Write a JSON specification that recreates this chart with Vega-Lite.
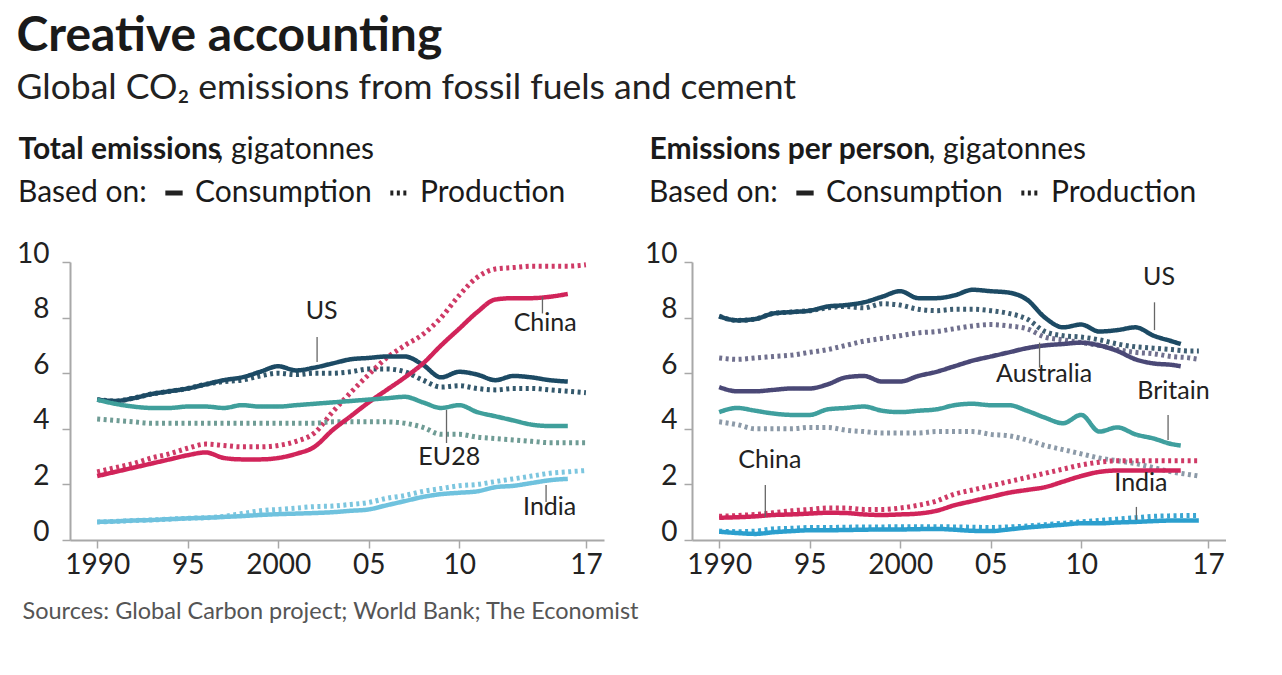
{
  "$schema": "https://vega.github.io/schema/vega-lite/v6.json",
  "background": "white",
  "padding": {"left": 16, "top": 12, "right": 0, "bottom": 0},
  "config": {
    "font": "Lato",
    "view": {"stroke": null},
    "axis": {"grid": false, "labelFont": "Lato", "labelFontSize": 28, "labelColor": "#222", "domainColor": "#a8a8a8", "domainWidth": 2, "tickColor": "#a8a8a8", "tickWidth": 1.5, "tickSize": 8, "titleFont": "Lato", "titleColor": "#1a1a1a", "labelFlush": false},
    "legend": {"labelFont": "Lato", "titleFont": "Lato", "labelLimit": 400, "titleLimit": 400},
    "text": {"font": "Lato"}
  },
  "title": {"text": "Creative accounting", "subtitle": "Global CO₂ emissions from fossil fuels and cement", "anchor": "start", "frame": "bounds", "fontSize": 48, "fontWeight": "bold", "color": "#1a1a1a", "subtitleFontSize": 35.5, "subtitleColor": "#222", "subtitleFont": "Lato", "subtitlePadding": 10, "offset": 28},
  "datasets": {
    "L": [
      {"s":"US-C","b":"Consumption","year":1990,"v":5.05},{"s":"US-C","b":"Consumption","year":1991,"v":5.0},{"s":"US-C","b":"Consumption","year":1992,"v":5.1},{"s":"US-C","b":"Consumption","year":1993,"v":5.25},{"s":"US-C","b":"Consumption","year":1994,"v":5.35},{"s":"US-C","b":"Consumption","year":1995,"v":5.45},{"s":"US-C","b":"Consumption","year":1996,"v":5.6},{"s":"US-C","b":"Consumption","year":1997,"v":5.75},{"s":"US-C","b":"Consumption","year":1998,"v":5.85},{"s":"US-C","b":"Consumption","year":1999,"v":6.05},{"s":"US-C","b":"Consumption","year":2000,"v":6.25},{"s":"US-C","b":"Consumption","year":2001,"v":6.1},{"s":"US-C","b":"Consumption","year":2002,"v":6.2},{"s":"US-C","b":"Consumption","year":2003,"v":6.35},{"s":"US-C","b":"Consumption","year":2004,"v":6.5},{"s":"US-C","b":"Consumption","year":2005,"v":6.55},{"s":"US-C","b":"Consumption","year":2006,"v":6.6},{"s":"US-C","b":"Consumption","year":2007,"v":6.6},{"s":"US-C","b":"Consumption","year":2008,"v":6.3},{"s":"US-C","b":"Consumption","year":2009,"v":5.85},{"s":"US-C","b":"Consumption","year":2010,"v":6.05},{"s":"US-C","b":"Consumption","year":2011,"v":5.95},{"s":"US-C","b":"Consumption","year":2012,"v":5.75},{"s":"US-C","b":"Consumption","year":2013,"v":5.9},{"s":"US-C","b":"Consumption","year":2014,"v":5.85},{"s":"US-C","b":"Consumption","year":2015,"v":5.75},{"s":"US-C","b":"Consumption","year":2016,"v":5.7},
      {"s":"US-P","b":"Production","year":1990,"v":5.05},{"s":"US-P","b":"Production","year":1991,"v":5.0},{"s":"US-P","b":"Production","year":1992,"v":5.1},{"s":"US-P","b":"Production","year":1993,"v":5.25},{"s":"US-P","b":"Production","year":1994,"v":5.35},{"s":"US-P","b":"Production","year":1995,"v":5.45},{"s":"US-P","b":"Production","year":1996,"v":5.6},{"s":"US-P","b":"Production","year":1997,"v":5.7},{"s":"US-P","b":"Production","year":1998,"v":5.75},{"s":"US-P","b":"Production","year":1999,"v":5.9},{"s":"US-P","b":"Production","year":2000,"v":6.0},{"s":"US-P","b":"Production","year":2001,"v":5.95},{"s":"US-P","b":"Production","year":2002,"v":6.0},{"s":"US-P","b":"Production","year":2003,"v":6.0},{"s":"US-P","b":"Production","year":2004,"v":6.05},{"s":"US-P","b":"Production","year":2005,"v":6.15},{"s":"US-P","b":"Production","year":2006,"v":6.15},{"s":"US-P","b":"Production","year":2007,"v":6.05},{"s":"US-P","b":"Production","year":2008,"v":5.75},{"s":"US-P","b":"Production","year":2009,"v":5.5},{"s":"US-P","b":"Production","year":2010,"v":5.55},{"s":"US-P","b":"Production","year":2011,"v":5.45},{"s":"US-P","b":"Production","year":2012,"v":5.4},{"s":"US-P","b":"Production","year":2013,"v":5.45},{"s":"US-P","b":"Production","year":2014,"v":5.45},{"s":"US-P","b":"Production","year":2015,"v":5.4},{"s":"US-P","b":"Production","year":2016,"v":5.35},{"s":"US-P","b":"Production","year":2017,"v":5.3},
      {"s":"CN-C","b":"Consumption","year":1990,"v":2.3},{"s":"CN-C","b":"Consumption","year":1991,"v":2.45},{"s":"CN-C","b":"Consumption","year":1992,"v":2.6},{"s":"CN-C","b":"Consumption","year":1993,"v":2.75},{"s":"CN-C","b":"Consumption","year":1994,"v":2.9},{"s":"CN-C","b":"Consumption","year":1995,"v":3.05},{"s":"CN-C","b":"Consumption","year":1996,"v":3.15},{"s":"CN-C","b":"Consumption","year":1997,"v":2.95},{"s":"CN-C","b":"Consumption","year":1998,"v":2.9},{"s":"CN-C","b":"Consumption","year":1999,"v":2.9},{"s":"CN-C","b":"Consumption","year":2000,"v":2.95},{"s":"CN-C","b":"Consumption","year":2001,"v":3.1},{"s":"CN-C","b":"Consumption","year":2002,"v":3.35},{"s":"CN-C","b":"Consumption","year":2003,"v":3.95},{"s":"CN-C","b":"Consumption","year":2004,"v":4.45},{"s":"CN-C","b":"Consumption","year":2005,"v":4.95},{"s":"CN-C","b":"Consumption","year":2006,"v":5.4},{"s":"CN-C","b":"Consumption","year":2007,"v":5.85},{"s":"CN-C","b":"Consumption","year":2008,"v":6.35},{"s":"CN-C","b":"Consumption","year":2009,"v":7.0},{"s":"CN-C","b":"Consumption","year":2010,"v":7.6},{"s":"CN-C","b":"Consumption","year":2011,"v":8.2},{"s":"CN-C","b":"Consumption","year":2012,"v":8.65},{"s":"CN-C","b":"Consumption","year":2013,"v":8.7},{"s":"CN-C","b":"Consumption","year":2014,"v":8.7},{"s":"CN-C","b":"Consumption","year":2015,"v":8.75},{"s":"CN-C","b":"Consumption","year":2016,"v":8.85},
      {"s":"CN-P","b":"Production","year":1990,"v":2.45},{"s":"CN-P","b":"Production","year":1991,"v":2.6},{"s":"CN-P","b":"Production","year":1992,"v":2.75},{"s":"CN-P","b":"Production","year":1993,"v":2.95},{"s":"CN-P","b":"Production","year":1994,"v":3.1},{"s":"CN-P","b":"Production","year":1995,"v":3.3},{"s":"CN-P","b":"Production","year":1996,"v":3.45},{"s":"CN-P","b":"Production","year":1997,"v":3.4},{"s":"CN-P","b":"Production","year":1998,"v":3.35},{"s":"CN-P","b":"Production","year":1999,"v":3.35},{"s":"CN-P","b":"Production","year":2000,"v":3.4},{"s":"CN-P","b":"Production","year":2001,"v":3.55},{"s":"CN-P","b":"Production","year":2002,"v":3.85},{"s":"CN-P","b":"Production","year":2003,"v":4.6},{"s":"CN-P","b":"Production","year":2004,"v":5.3},{"s":"CN-P","b":"Production","year":2005,"v":5.95},{"s":"CN-P","b":"Production","year":2006,"v":6.55},{"s":"CN-P","b":"Production","year":2007,"v":7.0},{"s":"CN-P","b":"Production","year":2008,"v":7.4},{"s":"CN-P","b":"Production","year":2009,"v":8.0},{"s":"CN-P","b":"Production","year":2010,"v":8.8},{"s":"CN-P","b":"Production","year":2011,"v":9.45},{"s":"CN-P","b":"Production","year":2012,"v":9.75},{"s":"CN-P","b":"Production","year":2013,"v":9.8},{"s":"CN-P","b":"Production","year":2014,"v":9.85},{"s":"CN-P","b":"Production","year":2015,"v":9.85},{"s":"CN-P","b":"Production","year":2016,"v":9.85},{"s":"CN-P","b":"Production","year":2017,"v":9.9},
      {"s":"EU-C","b":"Consumption","year":1990,"v":5.05},{"s":"EU-C","b":"Consumption","year":1991,"v":4.9},{"s":"EU-C","b":"Consumption","year":1992,"v":4.8},{"s":"EU-C","b":"Consumption","year":1993,"v":4.75},{"s":"EU-C","b":"Consumption","year":1994,"v":4.75},{"s":"EU-C","b":"Consumption","year":1995,"v":4.8},{"s":"EU-C","b":"Consumption","year":1996,"v":4.8},{"s":"EU-C","b":"Consumption","year":1997,"v":4.75},{"s":"EU-C","b":"Consumption","year":1998,"v":4.85},{"s":"EU-C","b":"Consumption","year":1999,"v":4.8},{"s":"EU-C","b":"Consumption","year":2000,"v":4.8},{"s":"EU-C","b":"Consumption","year":2001,"v":4.85},{"s":"EU-C","b":"Consumption","year":2002,"v":4.9},{"s":"EU-C","b":"Consumption","year":2003,"v":4.95},{"s":"EU-C","b":"Consumption","year":2004,"v":5.0},{"s":"EU-C","b":"Consumption","year":2005,"v":5.05},{"s":"EU-C","b":"Consumption","year":2006,"v":5.1},{"s":"EU-C","b":"Consumption","year":2007,"v":5.15},{"s":"EU-C","b":"Consumption","year":2008,"v":4.95},{"s":"EU-C","b":"Consumption","year":2009,"v":4.75},{"s":"EU-C","b":"Consumption","year":2010,"v":4.85},{"s":"EU-C","b":"Consumption","year":2011,"v":4.6},{"s":"EU-C","b":"Consumption","year":2012,"v":4.45},{"s":"EU-C","b":"Consumption","year":2013,"v":4.3},{"s":"EU-C","b":"Consumption","year":2014,"v":4.15},{"s":"EU-C","b":"Consumption","year":2015,"v":4.1},{"s":"EU-C","b":"Consumption","year":2016,"v":4.1},
      {"s":"EU-P","b":"Production","year":1990,"v":4.35},{"s":"EU-P","b":"Production","year":1991,"v":4.3},{"s":"EU-P","b":"Production","year":1992,"v":4.25},{"s":"EU-P","b":"Production","year":1993,"v":4.2},{"s":"EU-P","b":"Production","year":1994,"v":4.2},{"s":"EU-P","b":"Production","year":1995,"v":4.2},{"s":"EU-P","b":"Production","year":1996,"v":4.2},{"s":"EU-P","b":"Production","year":1997,"v":4.2},{"s":"EU-P","b":"Production","year":1998,"v":4.2},{"s":"EU-P","b":"Production","year":1999,"v":4.2},{"s":"EU-P","b":"Production","year":2000,"v":4.2},{"s":"EU-P","b":"Production","year":2001,"v":4.2},{"s":"EU-P","b":"Production","year":2002,"v":4.2},{"s":"EU-P","b":"Production","year":2003,"v":4.25},{"s":"EU-P","b":"Production","year":2004,"v":4.25},{"s":"EU-P","b":"Production","year":2005,"v":4.25},{"s":"EU-P","b":"Production","year":2006,"v":4.25},{"s":"EU-P","b":"Production","year":2007,"v":4.2},{"s":"EU-P","b":"Production","year":2008,"v":4.05},{"s":"EU-P","b":"Production","year":2009,"v":3.8},{"s":"EU-P","b":"Production","year":2010,"v":3.8},{"s":"EU-P","b":"Production","year":2011,"v":3.7},{"s":"EU-P","b":"Production","year":2012,"v":3.65},{"s":"EU-P","b":"Production","year":2013,"v":3.6},{"s":"EU-P","b":"Production","year":2014,"v":3.55},{"s":"EU-P","b":"Production","year":2015,"v":3.5},{"s":"EU-P","b":"Production","year":2016,"v":3.5},{"s":"EU-P","b":"Production","year":2017,"v":3.5},
      {"s":"IN-C","b":"Consumption","year":1990,"v":0.65},{"s":"IN-C","b":"Consumption","year":1991,"v":0.67},{"s":"IN-C","b":"Consumption","year":1992,"v":0.7},{"s":"IN-C","b":"Consumption","year":1993,"v":0.72},{"s":"IN-C","b":"Consumption","year":1994,"v":0.75},{"s":"IN-C","b":"Consumption","year":1995,"v":0.78},{"s":"IN-C","b":"Consumption","year":1996,"v":0.8},{"s":"IN-C","b":"Consumption","year":1997,"v":0.83},{"s":"IN-C","b":"Consumption","year":1998,"v":0.86},{"s":"IN-C","b":"Consumption","year":1999,"v":0.9},{"s":"IN-C","b":"Consumption","year":2000,"v":0.93},{"s":"IN-C","b":"Consumption","year":2001,"v":0.95},{"s":"IN-C","b":"Consumption","year":2002,"v":0.97},{"s":"IN-C","b":"Consumption","year":2003,"v":1.0},{"s":"IN-C","b":"Consumption","year":2004,"v":1.05},{"s":"IN-C","b":"Consumption","year":2005,"v":1.1},{"s":"IN-C","b":"Consumption","year":2006,"v":1.25},{"s":"IN-C","b":"Consumption","year":2007,"v":1.4},{"s":"IN-C","b":"Consumption","year":2008,"v":1.55},{"s":"IN-C","b":"Consumption","year":2009,"v":1.65},{"s":"IN-C","b":"Consumption","year":2010,"v":1.7},{"s":"IN-C","b":"Consumption","year":2011,"v":1.75},{"s":"IN-C","b":"Consumption","year":2012,"v":1.9},{"s":"IN-C","b":"Consumption","year":2013,"v":1.95},{"s":"IN-C","b":"Consumption","year":2014,"v":2.05},{"s":"IN-C","b":"Consumption","year":2015,"v":2.15},{"s":"IN-C","b":"Consumption","year":2016,"v":2.2},
      {"s":"IN-P","b":"Production","year":1990,"v":0.65},{"s":"IN-P","b":"Production","year":1991,"v":0.67},{"s":"IN-P","b":"Production","year":1992,"v":0.7},{"s":"IN-P","b":"Production","year":1993,"v":0.72},{"s":"IN-P","b":"Production","year":1994,"v":0.75},{"s":"IN-P","b":"Production","year":1995,"v":0.78},{"s":"IN-P","b":"Production","year":1996,"v":0.8},{"s":"IN-P","b":"Production","year":1997,"v":0.85},{"s":"IN-P","b":"Production","year":1998,"v":0.95},{"s":"IN-P","b":"Production","year":1999,"v":1.05},{"s":"IN-P","b":"Production","year":2000,"v":1.1},{"s":"IN-P","b":"Production","year":2001,"v":1.15},{"s":"IN-P","b":"Production","year":2002,"v":1.2},{"s":"IN-P","b":"Production","year":2003,"v":1.22},{"s":"IN-P","b":"Production","year":2004,"v":1.28},{"s":"IN-P","b":"Production","year":2005,"v":1.35},{"s":"IN-P","b":"Production","year":2006,"v":1.5},{"s":"IN-P","b":"Production","year":2007,"v":1.6},{"s":"IN-P","b":"Production","year":2008,"v":1.75},{"s":"IN-P","b":"Production","year":2009,"v":1.85},{"s":"IN-P","b":"Production","year":2010,"v":1.95},{"s":"IN-P","b":"Production","year":2011,"v":2.0},{"s":"IN-P","b":"Production","year":2012,"v":2.1},{"s":"IN-P","b":"Production","year":2013,"v":2.2},{"s":"IN-P","b":"Production","year":2014,"v":2.3},{"s":"IN-P","b":"Production","year":2015,"v":2.4},{"s":"IN-P","b":"Production","year":2016,"v":2.45},{"s":"IN-P","b":"Production","year":2017,"v":2.5}
    ],
    "R": [
      {"s":"US-C","b":"Consumption","year":1990,"v":8.05},{"s":"US-C","b":"Consumption","year":1991,"v":7.9},{"s":"US-C","b":"Consumption","year":1992,"v":7.95},{"s":"US-C","b":"Consumption","year":1993,"v":8.15},{"s":"US-C","b":"Consumption","year":1994,"v":8.2},{"s":"US-C","b":"Consumption","year":1995,"v":8.25},{"s":"US-C","b":"Consumption","year":1996,"v":8.4},{"s":"US-C","b":"Consumption","year":1997,"v":8.45},{"s":"US-C","b":"Consumption","year":1998,"v":8.55},{"s":"US-C","b":"Consumption","year":1999,"v":8.75},{"s":"US-C","b":"Consumption","year":2000,"v":8.95},{"s":"US-C","b":"Consumption","year":2001,"v":8.7},{"s":"US-C","b":"Consumption","year":2002,"v":8.7},{"s":"US-C","b":"Consumption","year":2003,"v":8.8},{"s":"US-C","b":"Consumption","year":2004,"v":9.0},{"s":"US-C","b":"Consumption","year":2005,"v":8.95},{"s":"US-C","b":"Consumption","year":2006,"v":8.9},{"s":"US-C","b":"Consumption","year":2007,"v":8.65},{"s":"US-C","b":"Consumption","year":2008,"v":8.0},{"s":"US-C","b":"Consumption","year":2009,"v":7.65},{"s":"US-C","b":"Consumption","year":2010,"v":7.75},{"s":"US-C","b":"Consumption","year":2011,"v":7.5},{"s":"US-C","b":"Consumption","year":2012,"v":7.55},{"s":"US-C","b":"Consumption","year":2013,"v":7.65},{"s":"US-C","b":"Consumption","year":2014,"v":7.35},{"s":"US-C","b":"Consumption","year":2015,"v":7.15},{"s":"US-C","b":"Consumption","year":2015.5,"v":7.05},
      {"s":"US-P","b":"Production","year":1990,"v":8.05},{"s":"US-P","b":"Production","year":1991,"v":7.9},{"s":"US-P","b":"Production","year":1992,"v":7.95},{"s":"US-P","b":"Production","year":1993,"v":8.15},{"s":"US-P","b":"Production","year":1994,"v":8.2},{"s":"US-P","b":"Production","year":1995,"v":8.25},{"s":"US-P","b":"Production","year":1996,"v":8.35},{"s":"US-P","b":"Production","year":1997,"v":8.4},{"s":"US-P","b":"Production","year":1998,"v":8.35},{"s":"US-P","b":"Production","year":1999,"v":8.5},{"s":"US-P","b":"Production","year":2000,"v":8.45},{"s":"US-P","b":"Production","year":2001,"v":8.3},{"s":"US-P","b":"Production","year":2002,"v":8.25},{"s":"US-P","b":"Production","year":2003,"v":8.3},{"s":"US-P","b":"Production","year":2004,"v":8.3},{"s":"US-P","b":"Production","year":2005,"v":8.25},{"s":"US-P","b":"Production","year":2006,"v":8.15},{"s":"US-P","b":"Production","year":2007,"v":7.95},{"s":"US-P","b":"Production","year":2008,"v":7.5},{"s":"US-P","b":"Production","year":2009,"v":7.35},{"s":"US-P","b":"Production","year":2010,"v":7.3},{"s":"US-P","b":"Production","year":2011,"v":7.2},{"s":"US-P","b":"Production","year":2012,"v":7.05},{"s":"US-P","b":"Production","year":2013,"v":6.95},{"s":"US-P","b":"Production","year":2014,"v":6.9},{"s":"US-P","b":"Production","year":2015,"v":6.85},{"s":"US-P","b":"Production","year":2016,"v":6.8},{"s":"US-P","b":"Production","year":2016.5,"v":6.8},
      {"s":"AU-C","b":"Consumption","year":1990,"v":5.5},{"s":"AU-C","b":"Consumption","year":1991,"v":5.35},{"s":"AU-C","b":"Consumption","year":1992,"v":5.35},{"s":"AU-C","b":"Consumption","year":1993,"v":5.4},{"s":"AU-C","b":"Consumption","year":1994,"v":5.45},{"s":"AU-C","b":"Consumption","year":1995,"v":5.45},{"s":"AU-C","b":"Consumption","year":1996,"v":5.6},{"s":"AU-C","b":"Consumption","year":1997,"v":5.85},{"s":"AU-C","b":"Consumption","year":1998,"v":5.9},{"s":"AU-C","b":"Consumption","year":1999,"v":5.7},{"s":"AU-C","b":"Consumption","year":2000,"v":5.7},{"s":"AU-C","b":"Consumption","year":2001,"v":5.9},{"s":"AU-C","b":"Consumption","year":2002,"v":6.05},{"s":"AU-C","b":"Consumption","year":2003,"v":6.25},{"s":"AU-C","b":"Consumption","year":2004,"v":6.45},{"s":"AU-C","b":"Consumption","year":2005,"v":6.6},{"s":"AU-C","b":"Consumption","year":2006,"v":6.75},{"s":"AU-C","b":"Consumption","year":2007,"v":6.9},{"s":"AU-C","b":"Consumption","year":2008,"v":7.0},{"s":"AU-C","b":"Consumption","year":2009,"v":7.05},{"s":"AU-C","b":"Consumption","year":2010,"v":7.1},{"s":"AU-C","b":"Consumption","year":2011,"v":7.0},{"s":"AU-C","b":"Consumption","year":2012,"v":6.8},{"s":"AU-C","b":"Consumption","year":2013,"v":6.5},{"s":"AU-C","b":"Consumption","year":2014,"v":6.35},{"s":"AU-C","b":"Consumption","year":2015,"v":6.3},{"s":"AU-C","b":"Consumption","year":2015.5,"v":6.25},
      {"s":"AU-P","b":"Production","year":1990,"v":6.55},{"s":"AU-P","b":"Production","year":1991,"v":6.5},{"s":"AU-P","b":"Production","year":1992,"v":6.55},{"s":"AU-P","b":"Production","year":1993,"v":6.6},{"s":"AU-P","b":"Production","year":1994,"v":6.65},{"s":"AU-P","b":"Production","year":1995,"v":6.75},{"s":"AU-P","b":"Production","year":1996,"v":6.85},{"s":"AU-P","b":"Production","year":1997,"v":7.0},{"s":"AU-P","b":"Production","year":1998,"v":7.15},{"s":"AU-P","b":"Production","year":1999,"v":7.25},{"s":"AU-P","b":"Production","year":2000,"v":7.35},{"s":"AU-P","b":"Production","year":2001,"v":7.45},{"s":"AU-P","b":"Production","year":2002,"v":7.5},{"s":"AU-P","b":"Production","year":2003,"v":7.6},{"s":"AU-P","b":"Production","year":2004,"v":7.7},{"s":"AU-P","b":"Production","year":2005,"v":7.75},{"s":"AU-P","b":"Production","year":2006,"v":7.7},{"s":"AU-P","b":"Production","year":2007,"v":7.6},{"s":"AU-P","b":"Production","year":2008,"v":7.3},{"s":"AU-P","b":"Production","year":2009,"v":7.2},{"s":"AU-P","b":"Production","year":2010,"v":7.1},{"s":"AU-P","b":"Production","year":2011,"v":7.0},{"s":"AU-P","b":"Production","year":2012,"v":6.85},{"s":"AU-P","b":"Production","year":2013,"v":6.75},{"s":"AU-P","b":"Production","year":2014,"v":6.7},{"s":"AU-P","b":"Production","year":2015,"v":6.6},{"s":"AU-P","b":"Production","year":2016,"v":6.55},{"s":"AU-P","b":"Production","year":2016.5,"v":6.5},
      {"s":"BR-C","b":"Consumption","year":1990,"v":4.6},{"s":"BR-C","b":"Consumption","year":1991,"v":4.75},{"s":"BR-C","b":"Consumption","year":1992,"v":4.65},{"s":"BR-C","b":"Consumption","year":1993,"v":4.55},{"s":"BR-C","b":"Consumption","year":1994,"v":4.5},{"s":"BR-C","b":"Consumption","year":1995,"v":4.5},{"s":"BR-C","b":"Consumption","year":1996,"v":4.7},{"s":"BR-C","b":"Consumption","year":1997,"v":4.75},{"s":"BR-C","b":"Consumption","year":1998,"v":4.8},{"s":"BR-C","b":"Consumption","year":1999,"v":4.65},{"s":"BR-C","b":"Consumption","year":2000,"v":4.6},{"s":"BR-C","b":"Consumption","year":2001,"v":4.65},{"s":"BR-C","b":"Consumption","year":2002,"v":4.7},{"s":"BR-C","b":"Consumption","year":2003,"v":4.85},{"s":"BR-C","b":"Consumption","year":2004,"v":4.9},{"s":"BR-C","b":"Consumption","year":2005,"v":4.85},{"s":"BR-C","b":"Consumption","year":2006,"v":4.85},{"s":"BR-C","b":"Consumption","year":2007,"v":4.65},{"s":"BR-C","b":"Consumption","year":2008,"v":4.4},{"s":"BR-C","b":"Consumption","year":2009,"v":4.2},{"s":"BR-C","b":"Consumption","year":2010,"v":4.5},{"s":"BR-C","b":"Consumption","year":2011,"v":3.9},{"s":"BR-C","b":"Consumption","year":2012,"v":4.05},{"s":"BR-C","b":"Consumption","year":2013,"v":3.8},{"s":"BR-C","b":"Consumption","year":2014,"v":3.65},{"s":"BR-C","b":"Consumption","year":2015,"v":3.45},{"s":"BR-C","b":"Consumption","year":2015.5,"v":3.4},
      {"s":"BR-P","b":"Production","year":1990,"v":4.25},{"s":"BR-P","b":"Production","year":1991,"v":4.15},{"s":"BR-P","b":"Production","year":1992,"v":4.0},{"s":"BR-P","b":"Production","year":1993,"v":4.0},{"s":"BR-P","b":"Production","year":1994,"v":4.0},{"s":"BR-P","b":"Production","year":1995,"v":4.05},{"s":"BR-P","b":"Production","year":1996,"v":4.05},{"s":"BR-P","b":"Production","year":1997,"v":3.95},{"s":"BR-P","b":"Production","year":1998,"v":3.9},{"s":"BR-P","b":"Production","year":1999,"v":3.85},{"s":"BR-P","b":"Production","year":2000,"v":3.85},{"s":"BR-P","b":"Production","year":2001,"v":3.85},{"s":"BR-P","b":"Production","year":2002,"v":3.9},{"s":"BR-P","b":"Production","year":2003,"v":3.9},{"s":"BR-P","b":"Production","year":2004,"v":3.9},{"s":"BR-P","b":"Production","year":2005,"v":3.8},{"s":"BR-P","b":"Production","year":2006,"v":3.75},{"s":"BR-P","b":"Production","year":2007,"v":3.6},{"s":"BR-P","b":"Production","year":2008,"v":3.4},{"s":"BR-P","b":"Production","year":2009,"v":3.25},{"s":"BR-P","b":"Production","year":2010,"v":3.1},{"s":"BR-P","b":"Production","year":2011,"v":2.95},{"s":"BR-P","b":"Production","year":2012,"v":2.85},{"s":"BR-P","b":"Production","year":2013,"v":2.75},{"s":"BR-P","b":"Production","year":2014,"v":2.6},{"s":"BR-P","b":"Production","year":2015,"v":2.45},{"s":"BR-P","b":"Production","year":2016,"v":2.35},{"s":"BR-P","b":"Production","year":2016.5,"v":2.3},
      {"s":"CN-C","b":"Consumption","year":1990,"v":0.8},{"s":"CN-C","b":"Consumption","year":1991,"v":0.82},{"s":"CN-C","b":"Consumption","year":1992,"v":0.85},{"s":"CN-C","b":"Consumption","year":1993,"v":0.9},{"s":"CN-C","b":"Consumption","year":1994,"v":0.92},{"s":"CN-C","b":"Consumption","year":1995,"v":0.95},{"s":"CN-C","b":"Consumption","year":1996,"v":0.98},{"s":"CN-C","b":"Consumption","year":1997,"v":0.97},{"s":"CN-C","b":"Consumption","year":1998,"v":0.92},{"s":"CN-C","b":"Consumption","year":1999,"v":0.9},{"s":"CN-C","b":"Consumption","year":2000,"v":0.92},{"s":"CN-C","b":"Consumption","year":2001,"v":0.95},{"s":"CN-C","b":"Consumption","year":2002,"v":1.05},{"s":"CN-C","b":"Consumption","year":2003,"v":1.25},{"s":"CN-C","b":"Consumption","year":2004,"v":1.4},{"s":"CN-C","b":"Consumption","year":2005,"v":1.55},{"s":"CN-C","b":"Consumption","year":2006,"v":1.7},{"s":"CN-C","b":"Consumption","year":2007,"v":1.8},{"s":"CN-C","b":"Consumption","year":2008,"v":1.9},{"s":"CN-C","b":"Consumption","year":2009,"v":2.1},{"s":"CN-C","b":"Consumption","year":2010,"v":2.3},{"s":"CN-C","b":"Consumption","year":2011,"v":2.45},{"s":"CN-C","b":"Consumption","year":2012,"v":2.5},{"s":"CN-C","b":"Consumption","year":2013,"v":2.5},{"s":"CN-C","b":"Consumption","year":2014,"v":2.5},{"s":"CN-C","b":"Consumption","year":2015,"v":2.5},{"s":"CN-C","b":"Consumption","year":2015.5,"v":2.5},
      {"s":"CN-P","b":"Production","year":1990,"v":0.85},{"s":"CN-P","b":"Production","year":1991,"v":0.88},{"s":"CN-P","b":"Production","year":1992,"v":0.92},{"s":"CN-P","b":"Production","year":1993,"v":0.98},{"s":"CN-P","b":"Production","year":1994,"v":1.05},{"s":"CN-P","b":"Production","year":1995,"v":1.1},{"s":"CN-P","b":"Production","year":1996,"v":1.15},{"s":"CN-P","b":"Production","year":1997,"v":1.15},{"s":"CN-P","b":"Production","year":1998,"v":1.1},{"s":"CN-P","b":"Production","year":1999,"v":1.1},{"s":"CN-P","b":"Production","year":2000,"v":1.15},{"s":"CN-P","b":"Production","year":2001,"v":1.25},{"s":"CN-P","b":"Production","year":2002,"v":1.4},{"s":"CN-P","b":"Production","year":2003,"v":1.65},{"s":"CN-P","b":"Production","year":2004,"v":1.8},{"s":"CN-P","b":"Production","year":2005,"v":1.95},{"s":"CN-P","b":"Production","year":2006,"v":2.1},{"s":"CN-P","b":"Production","year":2007,"v":2.25},{"s":"CN-P","b":"Production","year":2008,"v":2.4},{"s":"CN-P","b":"Production","year":2009,"v":2.55},{"s":"CN-P","b":"Production","year":2010,"v":2.7},{"s":"CN-P","b":"Production","year":2011,"v":2.8},{"s":"CN-P","b":"Production","year":2012,"v":2.85},{"s":"CN-P","b":"Production","year":2013,"v":2.85},{"s":"CN-P","b":"Production","year":2014,"v":2.85},{"s":"CN-P","b":"Production","year":2015,"v":2.85},{"s":"CN-P","b":"Production","year":2016,"v":2.85},{"s":"CN-P","b":"Production","year":2016.5,"v":2.85},
      {"s":"IN-C","b":"Consumption","year":1990,"v":0.3},{"s":"IN-C","b":"Consumption","year":1991,"v":0.25},{"s":"IN-C","b":"Consumption","year":1992,"v":0.22},{"s":"IN-C","b":"Consumption","year":1993,"v":0.28},{"s":"IN-C","b":"Consumption","year":1994,"v":0.32},{"s":"IN-C","b":"Consumption","year":1995,"v":0.35},{"s":"IN-C","b":"Consumption","year":1996,"v":0.35},{"s":"IN-C","b":"Consumption","year":1997,"v":0.36},{"s":"IN-C","b":"Consumption","year":1998,"v":0.37},{"s":"IN-C","b":"Consumption","year":1999,"v":0.38},{"s":"IN-C","b":"Consumption","year":2000,"v":0.38},{"s":"IN-C","b":"Consumption","year":2001,"v":0.39},{"s":"IN-C","b":"Consumption","year":2002,"v":0.4},{"s":"IN-C","b":"Consumption","year":2003,"v":0.37},{"s":"IN-C","b":"Consumption","year":2004,"v":0.33},{"s":"IN-C","b":"Consumption","year":2005,"v":0.32},{"s":"IN-C","b":"Consumption","year":2006,"v":0.38},{"s":"IN-C","b":"Consumption","year":2007,"v":0.45},{"s":"IN-C","b":"Consumption","year":2008,"v":0.5},{"s":"IN-C","b":"Consumption","year":2009,"v":0.55},{"s":"IN-C","b":"Consumption","year":2010,"v":0.6},{"s":"IN-C","b":"Consumption","year":2011,"v":0.6},{"s":"IN-C","b":"Consumption","year":2012,"v":0.63},{"s":"IN-C","b":"Consumption","year":2013,"v":0.65},{"s":"IN-C","b":"Consumption","year":2014,"v":0.68},{"s":"IN-C","b":"Consumption","year":2015,"v":0.7},{"s":"IN-C","b":"Consumption","year":2016.5,"v":0.7},
      {"s":"IN-P","b":"Production","year":1990,"v":0.32},{"s":"IN-P","b":"Production","year":1991,"v":0.3},{"s":"IN-P","b":"Production","year":1992,"v":0.32},{"s":"IN-P","b":"Production","year":1993,"v":0.4},{"s":"IN-P","b":"Production","year":1994,"v":0.42},{"s":"IN-P","b":"Production","year":1995,"v":0.45},{"s":"IN-P","b":"Production","year":1996,"v":0.45},{"s":"IN-P","b":"Production","year":1997,"v":0.46},{"s":"IN-P","b":"Production","year":1998,"v":0.47},{"s":"IN-P","b":"Production","year":1999,"v":0.47},{"s":"IN-P","b":"Production","year":2000,"v":0.48},{"s":"IN-P","b":"Production","year":2001,"v":0.48},{"s":"IN-P","b":"Production","year":2002,"v":0.48},{"s":"IN-P","b":"Production","year":2003,"v":0.47},{"s":"IN-P","b":"Production","year":2004,"v":0.46},{"s":"IN-P","b":"Production","year":2005,"v":0.45},{"s":"IN-P","b":"Production","year":2006,"v":0.47},{"s":"IN-P","b":"Production","year":2007,"v":0.5},{"s":"IN-P","b":"Production","year":2008,"v":0.55},{"s":"IN-P","b":"Production","year":2009,"v":0.6},{"s":"IN-P","b":"Production","year":2010,"v":0.65},{"s":"IN-P","b":"Production","year":2011,"v":0.7},{"s":"IN-P","b":"Production","year":2012,"v":0.75},{"s":"IN-P","b":"Production","year":2013,"v":0.8},{"s":"IN-P","b":"Production","year":2014,"v":0.85},{"s":"IN-P","b":"Production","year":2015,"v":0.87},{"s":"IN-P","b":"Production","year":2016,"v":0.88},{"s":"IN-P","b":"Production","year":2016.5,"v":0.88}
    ],
    "Ltxt": [
      {"label":"US","year":2002.4,"v":8.22},{"label":"China","year":2014.75,"v":7.79},{"label":"EU28","year":2009.45,"v":3.0},{"label":"India","year":2015.0,"v":1.17}
    ],
    "Lrule": [
      {"year":2002.15,"v":7.3,"v2":6.4},{"year":2014.6,"v":8.75,"v2":8.15},{"year":2009.3,"v":4.68,"v2":3.49},{"year":2014.8,"v":1.98,"v2":1.37}
    ],
    "Rtxt": [
      {"label":"US","year":2014.3,"v":9.46},{"label":"Australia","year":2007.95,"v":5.97},{"label":"Britain","year":2015.1,"v":5.36},{"label":"China","year":1992.8,"v":2.88},{"label":"India","year":2013.3,"v":2.05}
    ],
    "Rrule": [
      {"year":2014.05,"v":8.55,"v2":7.55},{"year":2007.7,"v":7.1,"v2":6.2},{"year":2014.8,"v":4.5,"v2":3.6},{"year":1992.55,"v":1.98,"v2":0.83},{"year":2013.05,"v":1.19,"v2":0.72}
    ]
  },
  "spacing": 4,
  "resolve": {"scale": {"color": "independent", "strokeDash": "independent"}},
  "hconcat": [
    {
      "width": 534, "height": 278,
      "encoding": {
        "x": {"field": "year", "type": "quantitative", "scale": {"domain": [1988.5, 2018], "nice": false, "zero": false},
          "axis": {"values": [1990, 1995, 2000, 2005, 2010, 2017], "format": "d", "labelExpr": "datum.value == 1990 || datum.value == 2000 ? datum.label : substring(datum.label, 2)", "labelPadding": 3,
            "title": "Sources: Global Carbon project; World Bank; The Economist", "titleFontSize": 23.5, "titleFontWeight": "normal", "titleColor": "#555", "titleAlign": "left", "titleBaseline": "alphabetic", "titleX": -48, "titleY": 78}}
      },
      "resolve": {"axis": {"y": "independent"}},
      "layer": [
        {
          "data": {"name": "L"},
          "transform": [{"filter": "datum.b == 'Production'"}],
          "mark": {"type": "line", "strokeWidth": 5, "interpolate": "monotone"},
          "encoding": {
            "y": {"field": "v", "type": "quantitative", "scale": {"domain": [0, 10], "nice": false},
              "axis": {"orient": "left", "values": [0, 2, 4, 6, 8, 10], "labelBaseline": "alphabetic", "labelPadding": 13,
                "title": "Total emissions", "titleFontSize": 30, "titleFontWeight": "bold", "titleAngle": 0, "titleAlign": "left", "titleBaseline": "alphabetic", "titleX": -52, "titleY": -104}},
            "color": {"field": "s", "type": "nominal", "legend": null, "scale": {"domain": ["US-C","US-P","CN-C","CN-P","EU-C","EU-P","IN-C","IN-P"], "range": ["#1c4a64","#33586c","#d1245a","#cf3a66","#3f9f9b","#6f9c95","#6fc2de","#7cc6df"]}},
            "strokeDash": {"field": "b", "type": "nominal", "scale": {"domain": ["Consumption", "Production"], "range": [[1, 0], [3, 3.5]]},
              "legend": {"orient": "none", "legendX": -52, "legendY": -84, "direction": "horizontal", "title": "Based on:", "titleOrient": "left", "titleFontSize": 30, "titleFontWeight": "normal", "titleColor": "#1a1a1a", "labelFontSize": 30, "labelColor": "#1a1a1a", "symbolType": "stroke", "symbolStrokeWidth": 5, "symbolSize": 300, "symbolStrokeColor": "#222", "columnPadding": 8, "labelOffset": 6, "titlePadding": 12}}
          }
        },
        {
          "data": {"name": "L"},
          "transform": [{"filter": "datum.b == 'Consumption'"}],
          "mark": {"type": "line", "strokeWidth": 4.5, "interpolate": "monotone"},
          "encoding": {
            "y": {"field": "v", "type": "quantitative", "scale": {"domain": [0, 10], "nice": false},
              "axis": {"orient": "right", "labels": false, "ticks": false, "domain": false,
                "title": ", gigatonnes", "titleFontSize": 30, "titleFontWeight": "normal", "titleAngle": 0, "titleAlign": "left", "titleBaseline": "alphabetic", "titleX": -388, "titleY": -104}},
            "color": {"field": "s", "type": "nominal", "legend": null, "scale": {"domain": ["US-C","US-P","CN-C","CN-P","EU-C","EU-P","IN-C","IN-P"], "range": ["#1c4a64","#33586c","#d1245a","#cf3a66","#3f9f9b","#6f9c95","#6fc2de","#7cc6df"]}},
            "strokeDash": {"field": "b", "type": "nominal", "scale": {"domain": ["Consumption", "Production"], "range": [[1, 0], [3, 3.5]]},
              "legend": {"orient": "none", "legendX": -52, "legendY": -84, "direction": "horizontal", "title": "Based on:", "titleOrient": "left", "titleFontSize": 30, "titleFontWeight": "normal", "titleColor": "#1a1a1a", "labelFontSize": 30, "labelColor": "#1a1a1a", "symbolType": "stroke", "symbolStrokeWidth": 5, "symbolSize": 300, "symbolStrokeColor": "#222", "columnPadding": 8, "labelOffset": 6, "titlePadding": 12}}
          }
        },
        {
          "data": {"name": "Lrule"},
          "mark": {"type": "rule", "color": "#666", "strokeWidth": 1.3},
          "encoding": {
            "y": {"field": "v", "type": "quantitative", "axis": null, "scale": {"domain": [0, 10], "nice": false}},
            "y2": {"field": "v2"}
          }
        },
        {
          "data": {"name": "Ltxt"},
          "mark": {"type": "text", "fontSize": 25, "color": "#222", "align": "center", "baseline": "middle"},
          "encoding": {
            "y": {"field": "v", "type": "quantitative", "axis": null, "scale": {"domain": [0, 10], "nice": false}},
            "text": {"field": "label"}
          }
        }
      ]
    },
    {
      "width": 534, "height": 278,
      "encoding": {
        "x": {"field": "year", "type": "quantitative", "scale": {"domain": [1988.5, 2018], "nice": false, "zero": false},
          "axis": {"values": [1990, 1995, 2000, 2005, 2010, 2017], "format": "d", "labelExpr": "datum.value == 1990 || datum.value == 2000 ? datum.label : substring(datum.label, 2)", "labelPadding": 3, "title": null}}
      },
      "resolve": {"axis": {"y": "independent"}},
      "layer": [
        {
          "data": {"name": "R"},
          "transform": [{"filter": "datum.b == 'Production'"}],
          "mark": {"type": "line", "strokeWidth": 5, "interpolate": "monotone"},
          "encoding": {
            "y": {"field": "v", "type": "quantitative", "scale": {"domain": [0, 10], "nice": false},
              "axis": {"orient": "left", "values": [0, 2, 4, 6, 8, 10], "labelBaseline": "alphabetic", "labelPadding": 7,
                "title": "Emissions per person", "titleFontSize": 30, "titleFontWeight": "bold", "titleAngle": 0, "titleAlign": "left", "titleBaseline": "alphabetic", "titleX": -43, "titleY": -104}},
            "color": {"field": "s", "type": "nominal", "legend": null, "scale": {"domain": ["US-C","US-P","AU-C","AU-P","BR-C","BR-P","CN-C","CN-P","IN-C","IN-P"], "range": ["#1c4a64","#3e5e72","#4a4876","#70708e","#3f9f9e","#8c9aa8","#d1245a","#cf3a66","#2b9fce","#3aa6d2"]}},
            "strokeDash": {"field": "b", "type": "nominal", "scale": {"domain": ["Consumption", "Production"], "range": [[1, 0], [3, 3.5]]},
              "legend": {"orient": "none", "legendX": -43, "legendY": -84, "direction": "horizontal", "title": "Based on:", "titleOrient": "left", "titleFontSize": 30, "titleFontWeight": "normal", "titleColor": "#1a1a1a", "labelFontSize": 30, "labelColor": "#1a1a1a", "symbolType": "stroke", "symbolStrokeWidth": 5, "symbolSize": 300, "symbolStrokeColor": "#222", "columnPadding": 8, "labelOffset": 6, "titlePadding": 12}}
          }
        },
        {
          "data": {"name": "R"},
          "transform": [{"filter": "datum.b == 'Consumption'"}],
          "mark": {"type": "line", "strokeWidth": 4.5, "interpolate": "monotone"},
          "encoding": {
            "y": {"field": "v", "type": "quantitative", "scale": {"domain": [0, 10], "nice": false},
              "axis": {"orient": "right", "labels": false, "ticks": false, "domain": false,
                "title": ", gigatonnes", "titleFontSize": 30, "titleFontWeight": "normal", "titleAngle": 0, "titleAlign": "left", "titleBaseline": "alphabetic", "titleX": -298, "titleY": -104}},
            "color": {"field": "s", "type": "nominal", "legend": null, "scale": {"domain": ["US-C","US-P","AU-C","AU-P","BR-C","BR-P","CN-C","CN-P","IN-C","IN-P"], "range": ["#1c4a64","#3e5e72","#4a4876","#70708e","#3f9f9e","#8c9aa8","#d1245a","#cf3a66","#2b9fce","#3aa6d2"]}},
            "strokeDash": {"field": "b", "type": "nominal", "scale": {"domain": ["Consumption", "Production"], "range": [[1, 0], [3, 3.5]]},
              "legend": {"orient": "none", "legendX": -43, "legendY": -84, "direction": "horizontal", "title": "Based on:", "titleOrient": "left", "titleFontSize": 30, "titleFontWeight": "normal", "titleColor": "#1a1a1a", "labelFontSize": 30, "labelColor": "#1a1a1a", "symbolType": "stroke", "symbolStrokeWidth": 5, "symbolSize": 300, "symbolStrokeColor": "#222", "columnPadding": 8, "labelOffset": 6, "titlePadding": 12}}
          }
        },
        {
          "data": {"name": "Rrule"},
          "mark": {"type": "rule", "color": "#666", "strokeWidth": 1.3},
          "encoding": {
            "y": {"field": "v", "type": "quantitative", "axis": null, "scale": {"domain": [0, 10], "nice": false}},
            "y2": {"field": "v2"}
          }
        },
        {
          "data": {"name": "Rtxt"},
          "mark": {"type": "text", "fontSize": 25, "color": "#222", "align": "center", "baseline": "middle"},
          "encoding": {
            "y": {"field": "v", "type": "quantitative", "axis": null, "scale": {"domain": [0, 10], "nice": false}},
            "text": {"field": "label"}
          }
        }
      ]
    }
  ]
}
